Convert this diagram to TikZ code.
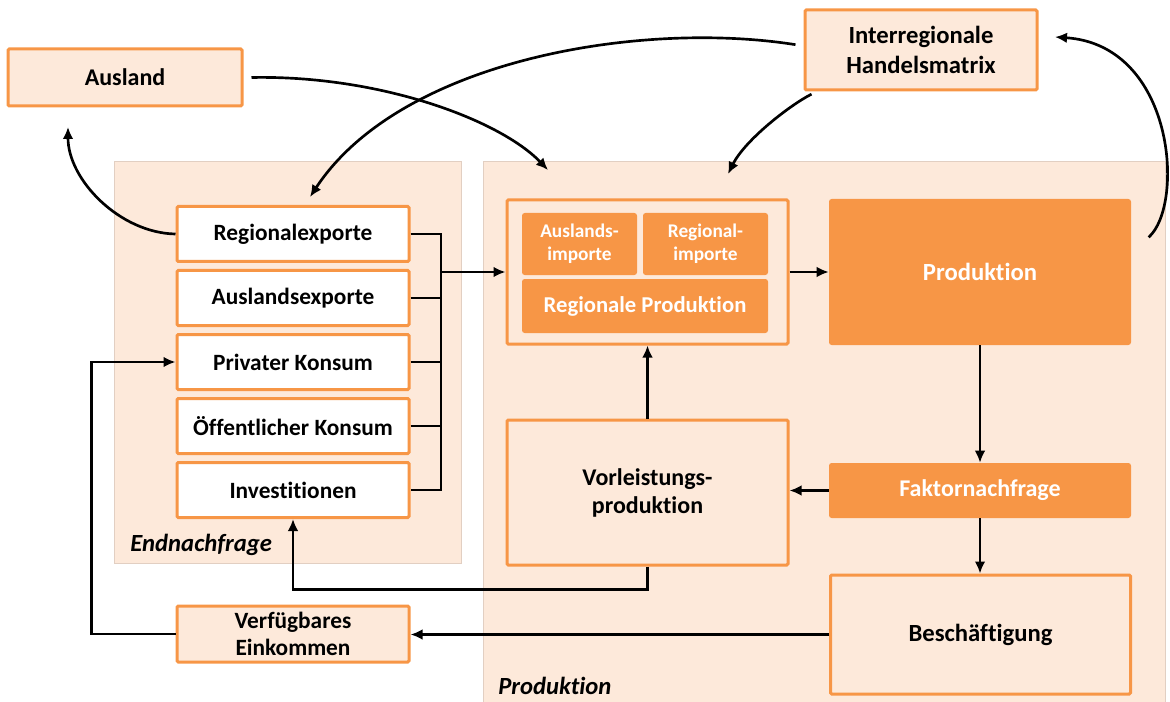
\documentclass[tikz,border=0pt]{standalone}
\usepackage{fontspec}
\setmainfont{Carlito}[Ligatures={NoCommon}]
\usetikzlibrary{arrows.meta}

\definecolor{orng}{HTML}{F79646}
\definecolor{peach}{HTML}{FDE9DA}
\definecolor{panelgray}{HTML}{E2CFC2}
\newcommand{\pxu}{0.75pt}

\tikzset{
  panel/.style={draw=panelgray, line width=0.6pt, fill=peach, inner sep=0pt},
  lightbox/.style={draw=orng, line width=2.25pt, fill=peach, rounded corners=1pt, inner sep=0pt,
    align=center, font=\bfseries\fontsize{17.5}{20}\selectfont},
  whitebox/.style={lightbox, fill=white},
  bigtext/.style={font=\bfseries\fontsize{18.5}{20}\selectfont},
  fullbox/.style={fill=orng, rounded corners=2pt, inner sep=0pt, align=center, text=white,
    font=\bfseries\fontsize{18}{20}\selectfont},
  smallbox/.style={fullbox, font=\bfseries\fontsize{14.5}{17}\selectfont},
  conn/.style={line width=2pt, black},
  sectlabel/.style={anchor=west, inner sep=0pt, font=\bfseries\itshape\fontsize{18.5}{20}\selectfont},
}

\begin{document}
\begin{tikzpicture}[x=0.75pt, y=-0.75pt, >={Latex[length=9pt,width=8pt]}]
    \useasboundingbox (0,0) rectangle (1170,702);

    % panels
    \node[panel, minimum width=347*\pxu, minimum height=402*\pxu] (endpanel) at (287.5,362) {};
    \node[panel, minimum width=682*\pxu, minimum height=541*\pxu] (prodpanel) at (824,431.5) {};
    \node[sectlabel] (endlabel) at (130,545) {Endnachfrage};
    \node[sectlabel] (prodlabel) at (498,686) {Produktion};

    % outside boxes
    \node[lightbox, minimum width=234*\pxu, minimum height=57*\pxu,
          font=\bfseries\fontsize{18}{20}\selectfont] (ausland) at (125,77.5) {Ausland};
    \node[lightbox, minimum width=232*\pxu, minimum height=80*\pxu,
          font=\bfseries\fontsize{18.5}{22.5}\selectfont] (handel) at (921,50) {Interregionale\\Handelsmatrix};

    % Endnachfrage
    \node[whitebox, minimum width=232*\pxu, minimum height=55*\pxu] (regexp) at (293,234) {Regionalexporte};
    \node[whitebox, minimum width=232*\pxu, minimum height=55*\pxu] (auslexp) at (293,298) {Auslandsexporte};
    \node[whitebox, minimum width=232*\pxu, minimum height=55*\pxu] (privkons) at (293,362) {Privater Konsum};
    \node[whitebox, minimum width=232*\pxu, minimum height=55*\pxu] (oeffkons) at (293,426) {Öffentlicher Konsum};
    \node[whitebox, minimum width=232*\pxu, minimum height=55*\pxu] (invest) at (293,490) {Investitionen};
    \node[lightbox, minimum width=232*\pxu, minimum height=56*\pxu] (verf) at (293,634) {Verfügbares\\Einkommen};

    % Produktion
    \node[lightbox, minimum width=281*\pxu, minimum height=144*\pxu] (inner) at (647.5,272) {};
    \node[smallbox, minimum width=115*\pxu, minimum height=62*\pxu] (auslimp) at (579.5,244) {Auslands-\\importe};
    \node[smallbox, minimum width=125*\pxu, minimum height=62*\pxu] (regimp) at (705.5,244) {Regional-\\importe};
    \node[fullbox, minimum width=246*\pxu, minimum height=54*\pxu,
          font=\bfseries\fontsize{17}{20}\selectfont] (regprod) at (645,306) {Regionale Produktion};
    \node[fullbox, minimum width=302*\pxu, minimum height=146*\pxu, bigtext] (prod) at (980,272) {Produktion};
    \node[lightbox, minimum width=281*\pxu, minimum height=145*\pxu,
          font=\bfseries\fontsize{18}{21}\selectfont] (vorleist) at (647.5,492.5) {Vorleistungs-\\produktion};
    \node[fullbox, minimum width=302*\pxu, minimum height=55*\pxu] (fakt) at (980,490.5) {Faktornachfrage};
    \node[lightbox, minimum width=300*\pxu, minimum height=119*\pxu, bigtext] (besch) at (980.5,634.5) {Beschäftigung};

    % collecting line of the final demand
    \coordinate (bus) at (441,0);
    \draw[conn] (regexp.east) -- (regexp.east -| bus) -- (invest.east -| bus) -- (invest.east);
    \draw[conn] (auslexp.east) -- (auslexp.east -| bus);
    \draw[conn] (privkons.east) -- (privkons.east -| bus);
    \draw[conn] (oeffkons.east) -- (oeffkons.east -| bus);
    \draw[conn,->] (inner.west -| bus) -- (inner.west);

    % straight connectors
    \draw[conn,->] (inner.east) -- (prod.west |- inner.east);
    \draw[conn,->] (vorleist.north) -- (inner.south);
    \draw[conn,->] (prod.south) -- (fakt.north);
    \draw[conn,->] (fakt.west) -- (vorleist.east |- fakt.west);
    \draw[conn,->] (fakt.south) -- (fakt.south |- besch.north);
    \draw[conn,->] (besch.west) -- (verf.east |- besch.west);
    \draw[conn,->] (vorleist.south) -- ++(0,23) -| (invest.south);
    \draw[conn,->] (verf.west) -- ++(-84,0) |- (privkons.west);

    % curved connectors
    \coordinate (ausin) at (68,127);
    \coordinate (ausarr) at (548,170);
    \coordinate (regin) at (310,197);
    \coordinate (innerin) at (728,174);
    \coordinate (handin) at (1055,37);
    \draw[conn,->] (regexp.west) .. controls (120,233) and (68,180) .. (ausin);
    \draw[conn,->] ([xshift=6pt]ausland.east) .. controls (380,75) and (500,120) .. (ausarr);
    \draw[conn,->] ([shift={(-6pt,4pt)}]handel.west) .. controls (640,20) and (400,60) .. (regin);
    \draw[conn,->] ([shift={(6pt,-2pt)}]handel.south west) .. controls (790,105) and (745,140) .. (innerin);
    \draw[conn,->] ([shift={(13pt,26pt)}]prod.east) .. controls (1185,205) and (1175,45) .. (handin);

\end{tikzpicture}
\end{document}
